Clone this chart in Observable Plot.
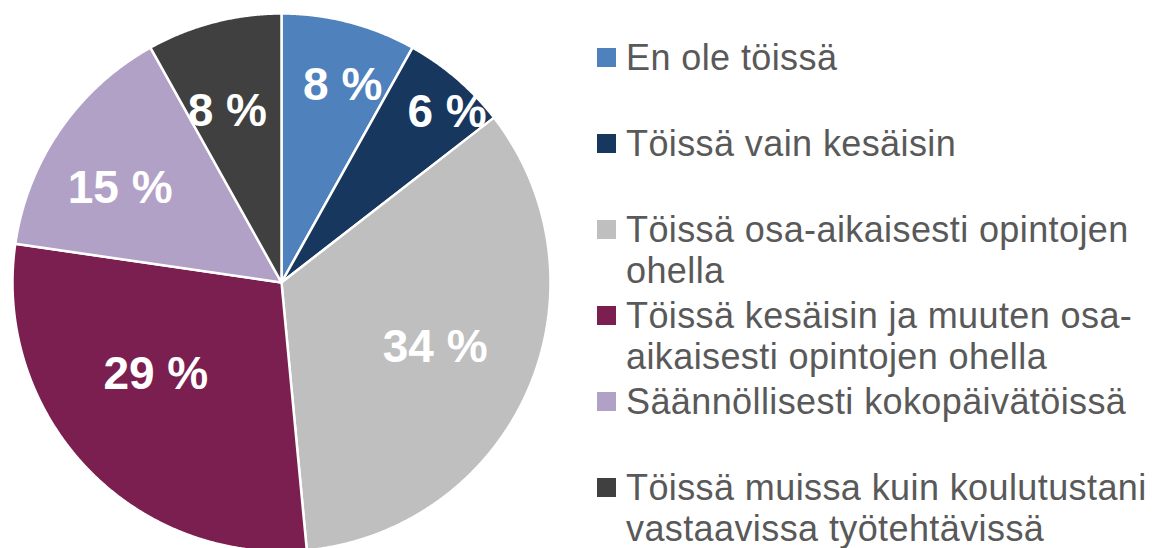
<!DOCTYPE html>
<html>
<head>
<meta charset="utf-8">
<script src="https://cdn.jsdelivr.net/npm/d3@7"></script>
<script src="https://cdn.jsdelivr.net/npm/@observablehq/plot@0.6"></script>
<style>
  html, body { margin: 0; padding: 0; background: #fff; }
  #wrap { position: relative; width: 1156px; height: 548px; overflow: hidden; font-family: "Liberation Sans", Arial, sans-serif; }
  #pie { position: absolute; left: 0; top: 0; }
  #legend { position: absolute; left: 597px; top: 37px; }
  .item { position: relative; height: 86px; padding-left: 29px; font-size: 36px; letter-spacing: 0.4px; line-height: 41px; color: #595959; white-space: nowrap; }
  .sw { position: absolute; left: 0; top: 11px; width: 19px; height: 19px; }
</style>
</head>
<body>
<div id="wrap">
  <div id="pie"></div>
  <div id="legend"></div>
</div>
<script>
// Data
const categories = [
  "En ole töissä",
  "Töissä vain kesäisin",
  "Töissä osa-aikaisesti opintojen ohella",
  "Töissä kesäisin ja muuten osa-aikaisesti opintojen ohella",
  "Säännöllisesti kokopäivätöissä",
  "Töissä muissa kuin koulutustani vastaavissa työtehtävissä"
];
const legendLines = [
  ["En ole töissä"],
  ["Töissä vain kesäisin"],
  ["Töissä osa-aikaisesti opintojen", "ohella"],
  ["Töissä kesäisin ja muuten osa-", "aikaisesti opintojen ohella"],
  ["Säännöllisesti kokopäivätöissä"],
  ["Töissä muissa kuin koulutustani", "vastaavissa työtehtävissä"]
];
const values = [8.1, 6.4, 34.0, 28.8, 14.6, 8.1];
const valueLabels = ["8 %", "6 %", "34 %", "29 %", "15 %", "8 %"];
const colors = ["#4F81BD", "#17375E", "#BFBFBF", "#7B1F50", "#B2A1C7", "#404040"];

// Label placement like the original's best-fit labels:
// fraction of radius, and a small angular nudge (degrees) from each slice's mid-angle
const labelRadius = [0.766, 0.883, 0.62, 0.578, 0.695, 0.667];
const labelNudge = [2.7, 3.5, -0.5, 7.5, -4.2, -3.0];

const arcs = d3.pie().sort(null).value(d => d)(values);
const step = Math.PI / 720;
const features = arcs.map((a, i) => {
  const ring = [[0, 0]];
  const n = Math.max(2, Math.ceil((a.endAngle - a.startAngle) / step));
  for (let k = 0; k <= n; k++) {
    const t = a.startAngle + (a.endAngle - a.startAngle) * k / n;
    ring.push([Math.sin(t), -Math.cos(t)]);
  }
  ring.push([0, 0]);
  return {type: "Feature", properties: {name: categories[i], color: colors[i]}, geometry: {type: "Polygon", coordinates: [ring]}};
});
const labelData = arcs.map((a, i) => {
  const m = (a.startAngle + a.endAngle) / 2 + labelNudge[i] * Math.PI / 180;
  return {x: Math.sin(m) * labelRadius[i], y: -Math.cos(m) * labelRadius[i], text: valueLabels[i]};
});

const chart = Plot.plot({
  width: 580,
  height: 548,
  marginLeft: 12,
  marginRight: 30,
  marginTop: 13,
  marginBottom: -3,
  projection: {type: "identity", domain: {type: "MultiPoint", coordinates: [[-1, -1], [1, 1]]}},
  marks: [
    Plot.geo(features, {fill: d => d.properties.color, stroke: "white", strokeWidth: 2.5}),
    Plot.text(labelData, {x: "x", y: "y", text: "text", fill: "white", fontWeight: "bold", fontSize: 46, fontFamily: "Liberation Sans, Arial, sans-serif"})
  ]
});
document.getElementById("pie").appendChild(chart);

const legend = document.getElementById("legend");
legendLines.forEach((lines, i) => {
  const it = document.createElement("div");
  it.className = "item";
  const sw = document.createElement("div");
  sw.className = "sw";
  sw.style.background = colors[i];
  it.appendChild(sw);
  lines.forEach(l => {
    const d = document.createElement("div");
    d.textContent = l;
    it.appendChild(d);
  });
  legend.appendChild(it);
});
</script>
</body>
</html>
